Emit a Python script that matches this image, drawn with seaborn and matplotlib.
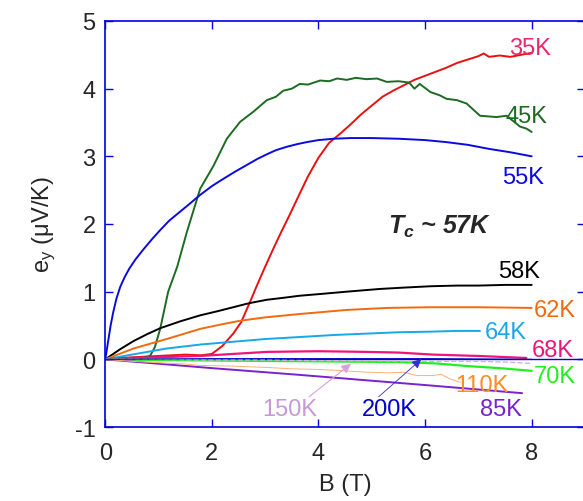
import matplotlib
matplotlib.use("Agg")
import matplotlib.pyplot as plt
import numpy as np
import pandas as pd
import seaborn as sns

# curves e_y(B), one pair per temperature
B35 = [0, 0.5, 1.0, 1.5, 1.8, 2.0, 2.2, 2.4, 2.55, 2.7, 2.85, 3.0, 3.15, 3.3, 3.45, 3.6, 3.8,
       4.0, 4.2, 4.4, 4.6, 4.8, 5.0, 5.2, 5.4, 5.6, 5.8, 6.0, 6.2, 6.4, 6.6, 6.8, 7.0, 7.1,
       7.2, 7.4, 7.6, 7.8, 8.0]
e35 = [0, 0.03, 0.05, 0.07, 0.06, 0.08, 0.2, 0.38, 0.55, 0.82, 1.1, 1.37, 1.63, 1.88, 2.12,
       2.37, 2.7, 2.98, 3.2, 3.33, 3.47, 3.62, 3.75, 3.88, 3.97, 4.05, 4.13, 4.19, 4.25, 4.31,
       4.38, 4.43, 4.48, 4.52, 4.47, 4.49, 4.47, 4.5, 4.53]

B45 = [0, 0.4, 0.7, 0.84, 0.93, 1.03, 1.18, 1.35, 1.53, 1.78, 2.03, 2.28, 2.53, 2.78, 3.03,
       3.2, 3.34, 3.5, 3.65, 3.8, 4.03, 4.2, 4.35, 4.53, 4.7, 4.9, 5.1, 5.28, 5.5, 5.7, 5.8,
       5.9, 6.1, 6.28, 6.4, 6.6, 6.78, 7.03, 7.34, 7.53, 7.78, 7.9, 8.0]
e45 = [0, 0.01, 0.02, 0.05, 0.18, 0.45, 1.0, 1.37, 1.88, 2.52, 2.86, 3.26, 3.51, 3.66, 3.83,
       3.88, 3.97, 4.0, 4.07, 4.06, 4.12, 4.11, 4.15, 4.13, 4.16, 4.14, 4.15, 4.1, 4.11, 4.09,
       4.0, 4.07, 3.95, 3.9, 3.85, 3.83, 3.78, 3.6, 3.58, 3.6, 3.44, 3.41, 3.36]

B55 = [0, 0.03, 0.06, 0.1, 0.15, 0.21, 0.28, 0.36, 0.45, 0.56, 0.71, 0.87, 1.03, 1.2, 1.4,
       1.6, 1.78, 2.0, 2.22, 2.45, 2.65, 2.85, 3.03, 3.2, 3.4, 3.6, 3.78, 4.0, 4.28, 4.6, 5.0,
       5.5, 6.0, 6.4, 6.8, 7.2, 7.6, 8.0]
e55 = [0, 0.15, 0.3, 0.5, 0.7, 0.9, 1.07, 1.21, 1.34, 1.47, 1.62, 1.77, 1.91, 2.05, 2.18,
       2.31, 2.43, 2.56, 2.67, 2.78, 2.87, 2.96, 3.03, 3.09, 3.14, 3.18, 3.21, 3.24, 3.26, 3.27,
       3.27, 3.26, 3.24, 3.21, 3.17, 3.11, 3.06, 3.0]

B58 = [0, 0.28, 0.53, 0.78, 1.03, 1.4, 1.78, 2.1, 2.4, 2.7, 3.03, 3.35, 3.65, 4.1, 4.53,
       5.15, 5.6, 6.1, 6.6, 7.0, 7.5, 8.0]
e58 = [0, 0.15, 0.27, 0.37, 0.46, 0.56, 0.65, 0.71, 0.77, 0.83, 0.88, 0.91, 0.94, 0.97, 1.0,
       1.04, 1.06, 1.08, 1.09, 1.09, 1.1, 1.1]

B62 = [0, 0.53, 1.15, 1.78, 2.2, 2.53, 3.0, 3.65, 4.53, 5.3, 6.1, 7.0, 8.0]
e62 = [0, 0.16, 0.3, 0.45, 0.52, 0.57, 0.62, 0.67, 0.73, 0.76, 0.77, 0.77, 0.76]

B64 = [0, 0.5, 1.15, 1.8, 2.4, 3.0, 3.65, 4.3, 4.9, 5.5, 6.15, 6.6, 7.03]
e64 = [0, 0.07, 0.16, 0.22, 0.26, 0.3, 0.33, 0.36, 0.38, 0.4, 0.41, 0.42, 0.42]

B68 = [0, 0.5, 1.0, 1.78, 2.4, 3.03, 4.0, 4.9, 5.5, 6.15, 7.0, 7.9]
e68 = [0, 0.02, 0.03, 0.05, 0.08, 0.11, 0.12, 0.11, 0.1, 0.07, 0.05, 0.02]

B70 = [0, 1.0, 2.4, 4.0, 5.5, 6.2, 6.8, 7.4, 8.0]
e70 = [0, -0.01, -0.02, -0.03, -0.04, -0.06, -0.1, -0.13, -0.17]

B85 = [0, 2.0, 3.65, 6.0, 7.82]
e85 = [0, -0.13, -0.23, -0.38, -0.5]

B110 = [0, 0.5, 1.0, 1.5, 1.78, 2.4, 3.03, 3.5, 4.03, 4.5, 4.9, 5.3, 5.6, 5.84, 6.15, 6.3,
        6.47, 6.66]
e110 = [0, -0.03, -0.05, -0.07, -0.09, -0.1, -0.12, -0.14, -0.15, -0.17, -0.19, -0.2, -0.19,
        -0.24, -0.24, -0.22, -0.29, -0.34]

B150 = [0, 1, 2, 3, 4, 5, 6, 7, 7.5, 8]
e150 = [0, 0, -0.01, -0.01, -0.02, -0.02, -0.03, -0.03, -0.04, -0.06]

B200 = [0, 2, 4, 6, 8]
e200 = [0, 0.01, 0.01, 0.01, 0.0]

series = [
    ("35K", B35, e35, "#e81010", 1.4, "#e8286a", (7.58, 4.6)),
    ("45K", B45, e45, "#1d6b22", 1.4, "#1d6b22", (7.5, 3.59)),
    ("55K", B55, e55, "#0a0ae0", 1.4, "#0a0ae0", (7.44, 2.7)),
    ("58K", B58, e58, "black", 1.4, "black", (7.37, 1.31)),
    ("62K", B62, e62, "#f06a10", 1.4, "#f06a10", (8.03, 0.73)),
    ("64K", B64, e64, "#18a8e8", 1.4, "#18a8e8", (7.12, 0.41)),
    ("68K", B68, e68, "#f0147a", 1.6, "#f0147a", (8.0, 0.14)),
    ("70K", B70, e70, "#22ee22", 1.6, "#22ee22", (8.03, -0.24)),
    ("85K", B85, e85, "#7a22cc", 1.4, "#7a22cc", (7.03, -0.73)),
    ("110K", B110, e110, "#ffb070", 0.7, "#ff8c28", (6.56, -0.38)),
    ("150K", B150, e150, "#d8b0e0", 1.0, "#c898d8", (2.94, -0.73)),
    ("200K", B200, e200, "#0000cc", 0.8, "#0000cc", (4.82, -0.73)),
]

sns.set_style("ticks")
plt.rcParams["font.family"] = ["Liberation Sans", "DejaVu Sans"]
plt.rcParams["axes.unicode_minus"] = False
plt.rcParams["mathtext.fontset"] = "custom"
plt.rcParams["mathtext.rm"] = "Liberation Sans"
plt.rcParams["mathtext.it"] = "Liberation Sans:italic"
plt.rcParams["mathtext.bf"] = "Liberation Sans:bold:italic"

fig = plt.figure(figsize=(5.83, 5.02), dpi=100)
ax = fig.add_axes([0.1806, 0.1474, 0.8228, 0.8088])

frame = "#0000e0"
ax.axhline(0, color=frame, lw=1.0, zorder=1)

for name, bx, ey, col, lw, lcol, pos in series:
    ls = "--" if name == "150K" else "-"
    sns.lineplot(x=bx, y=ey, color=col, lw=lw, ls=ls, estimator=None, sort=False, ax=ax)
    ax.text(pos[0], pos[1], name, color=lcol, fontsize=17, ha="left", va="center")

# arrows from the 150K and 200K labels to their curves
ax.annotate("", xy=(4.65, -0.04), xytext=(3.78, -0.58),
            arrowprops=dict(arrowstyle="-|>", color="#d8a0e0", lw=0.8, mutation_scale=14))
ax.annotate("", xy=(5.97, 0.03), xytext=(5.09, -0.58),
            arrowprops=dict(arrowstyle="-|>", color="#3030d0", lw=0.6, mutation_scale=14))

ax.text(5.3, 1.97, r"$\mathbf{T_c}$ ~ 57K", fontsize=18, fontweight="bold",
        fontstyle="italic", ha="left", va="center")

ax.set_xlim(0, 9)
ax.set_ylim(-1, 5)
ax.set_xticks([0, 2, 4, 6, 8])
ax.set_yticks([-1, 0, 1, 2, 3, 4, 5])
ax.tick_params(direction="in", length=6, width=1, color=frame, labelsize=17,
               top=True, right=True)
ax.tick_params(axis="x", pad=11)
ax.tick_params(axis="y", pad=7)
for sp in ax.spines.values():
    sp.set_color(frame)
    sp.set_linewidth(1.2)

ax.set_xlabel("B (T)", fontsize=17, labelpad=6)
ax.set_ylabel(r"e$_\mathregular{y}$ (μV/K)", fontsize=17, labelpad=12)

fig.savefig("out.png", dpi=100)
